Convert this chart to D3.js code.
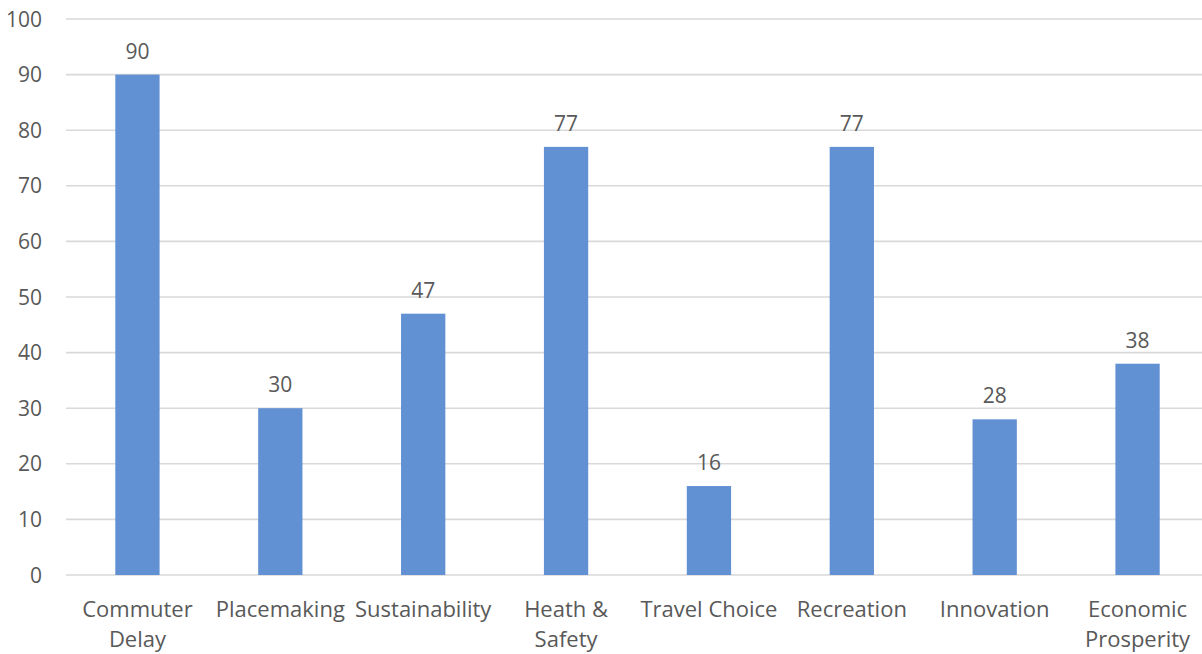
<!DOCTYPE html>
<html>
<head>
<meta charset="utf-8">
<script src="https://cdn.jsdelivr.net/npm/d3@7"></script>
<style>
  html, body { margin: 0; padding: 0; background: #fff; }
  svg { display: block; }
  text { font-family: "Open Sans", "Noto Sans", sans-serif; fill: #595959; }
</style>
</head>
<body>
<svg id="chart" width="1202" height="654"></svg>
<script>
// Category names (each inner array is one label line)
const categories = ["Commuter Delay", "Placemaking", "Sustainability", "Heath & Safety",
                    "Travel Choice", "Recreation", "Innovation", "Economic Prosperity"];
const labelLines = [["Commuter", "Delay"], ["Placemaking"], ["Sustainability"], ["Heath &", "Safety"],
                    ["Travel Choice"], ["Recreation"], ["Innovation"], ["Economic", "Prosperity"]];
const values = [90, 30, 47, 77, 16, 77, 28, 38];
const yTicks = [0, 10, 20, 30, 40, 50, 60, 70, 80, 90, 100];

const svg = d3.select("#chart");
const margin = { left: 66, right: -7, top: 19, bottom: 79 };
const W = 1202, H = 654;
const fontSize = 21;

const x = d3.scaleBand()
  .domain(categories)
  .range([margin.left, W - margin.right])
  .paddingInner(0.69)
  .paddingOuter(0.345);

const y = d3.scaleLinear()
  .domain([0, 100])
  .range([H - margin.bottom, margin.top]);

// Horizontal gridlines
svg.append("g")
  .selectAll("line")
  .data(yTicks)
  .join("line")
  .attr("x1", margin.left)
  .attr("x2", W - margin.right)
  .attr("y1", d => y(d))
  .attr("y2", d => y(d))
  .attr("stroke", "#d9d9d9")
  .attr("stroke-width", 1.6);

// Y axis labels
svg.append("g")
  .selectAll("text")
  .data(yTicks)
  .join("text")
  .attr("x", 42)
  .attr("y", d => y(d))
  .attr("dy", "0.36em")
  .attr("text-anchor", "end")
  .attr("font-size", fontSize)
  .text(d => d);

// Bars
svg.append("g")
  .selectAll("rect")
  .data(values)
  .join("rect")
  .attr("x", (d, i) => x(categories[i]))
  .attr("width", x.bandwidth())
  .attr("y", d => y(d))
  .attr("height", d => y(0) - y(d))
  .attr("fill", "#6191d3");

// Value labels
svg.append("g")
  .selectAll("text")
  .data(values)
  .join("text")
  .attr("x", (d, i) => x(categories[i]) + x.bandwidth() / 2)
  .attr("y", d => y(d) - 16)
  .attr("text-anchor", "middle")
  .attr("font-size", fontSize)
  .text(d => d);

// Category labels
const cat = svg.append("g")
  .selectAll("text")
  .data(labelLines)
  .join("text")
  .attr("x", (d, i) => x(categories[i]) + x.bandwidth() / 2)
  .attr("y", 617)
  .attr("text-anchor", "middle")
  .attr("font-size", 22);
cat.selectAll("tspan")
  .data(d => d)
  .join("tspan")
  .attr("x", function () { return this.parentNode.getAttribute("x"); })
  .attr("dy", (d, j) => j === 0 ? 0 : 30)
  .text(d => d);
</script>
</body>
</html>
